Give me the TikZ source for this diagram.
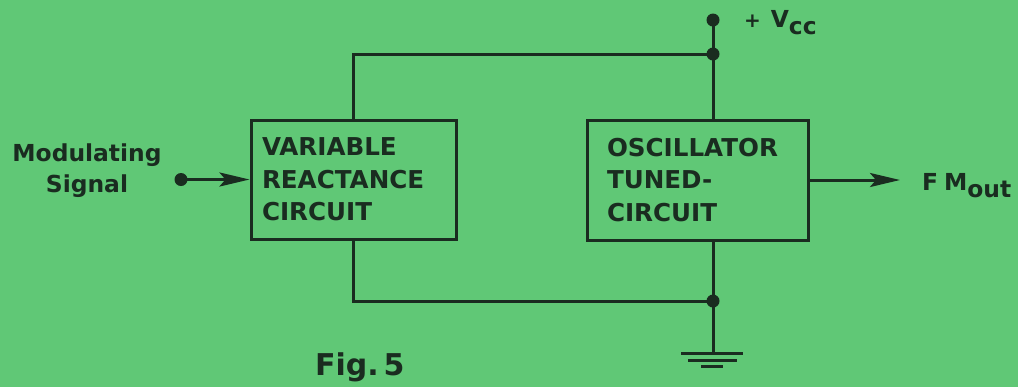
\documentclass[tikz,border=0pt]{standalone}
\usepackage{fontspec}
\setmainfont{DejaVu Sans}
\usetikzlibrary{arrows.meta}
\definecolor{paper}{RGB}{96,200,118}
\definecolor{ink}{RGB}{26,44,32}

\tikzset{
  block/.style={draw, line width=1.5pt, align=left, inner xsep=5.5pt,
    font=\fontsize{12.3}{16.25}\selectfont\bfseries},
  wire/.style={line width=1.5pt},
  dot/.style={circle, fill, inner sep=0pt, minimum size=6.5pt},
  lbl/.style={font=\fontsize{11.7}{15.5}\selectfont\bfseries},
}

\begin{document}
\begin{tikzpicture}[x=0.5pt, y=-0.5pt, color=ink,
  >={Stealth[length=15pt,width=7pt,inset=3pt]}]
  \fill[paper] (0,0) rectangle (1018,387);
  \useasboundingbox (0,0) rectangle (1018,387);

  \node[block, minimum width=102.5pt, minimum height=59.5pt, text width=91.5pt]
    (react) at (353.5,179.5) {VARIABLE\\REACTANCE\\CIRCUIT};
  \node[block, minimum width=110.5pt, minimum height=60pt, inner xsep=10pt, text width=90.5pt]
    (osc) at (697.5,180) {OSCILLATOR\\TUNED-\\CIRCUIT};

  \node[dot] (vcc) at (713,20) {};
  \node[dot] (jtop) at (713,54) {};
  \node[dot] (jbot) at (713,301) {};
  \node[dot] (insig) at (181,179.5) {};
  \coordinate (gnd) at (713,353);
  \coordinate (outend) at (900,180);

  % supply and ground rails
  \draw[wire] (react.north) |- (jtop.center) -- (vcc.center);
  \draw[wire] (jtop.center) -- (jtop |- osc.north);
  \draw[wire] (react.south) |- (jbot.center) -- (jbot |- osc.south);
  \draw[wire] (jbot.center) -- (gnd);
  \draw[wire] ([shift={(-32,0)}]gnd) -- ([shift={(30,0)}]gnd);
  \draw[wire] ([shift={(-25,7)}]gnd) -- ([shift={(24,7)}]gnd);
  \draw[wire] ([shift={(-12,13)}]gnd) -- ([shift={(10,13)}]gnd);

  % signal path
  \draw[wire,->] (insig.center) -- (react.west);
  \draw[wire,->] (osc.east) -- (outend);

  \node[lbl, align=center] (modsig) at (87,171) {Modulating\\Signal};
  \node[lbl, anchor=base west] (fmout) at (915,190) {F\kern3pt M\raisebox{-3.5pt}{out}};
  \node[lbl, anchor=base west] (vcclabel) at (737,27)
    {{\fontsize{10}{10}\selectfont +}\hspace{5pt}V\raisebox{-3.5pt}{cc}};
  \node[anchor=base west, font=\fontsize{15}{18}\selectfont\bfseries] (fig) at (308,375) {Fig.\,5};
\end{tikzpicture}
\end{document}
